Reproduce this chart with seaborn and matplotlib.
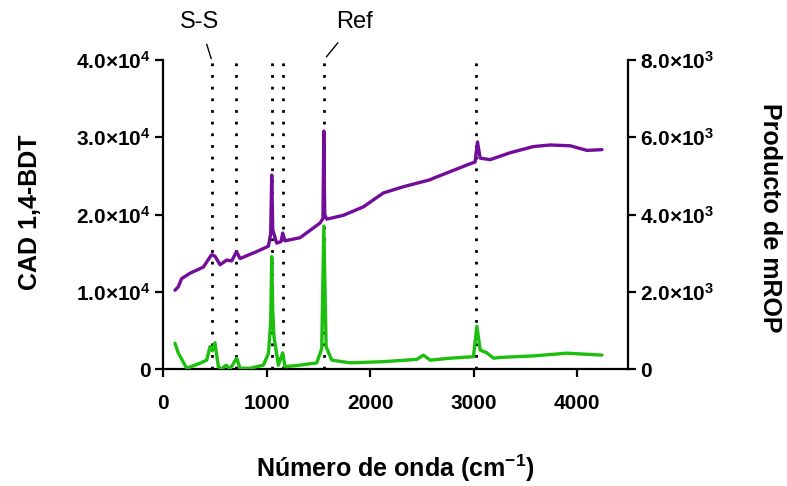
import numpy as np
import pandas as pd
import matplotlib
matplotlib.use("Agg")
import matplotlib.pyplot as plt
from matplotlib.ticker import FuncFormatter
import seaborn as sns

# CAD 1,4-BDT spectrum (left axis)
wn_cad = [116, 148, 180, 261, 390, 454, 470, 502, 551, 615, 664, 710, 744, 905, 1018, 1040,
          1050, 1060, 1098, 1140, 1156, 1178, 1324, 1517, 1545, 1553, 1562, 1581, 1742, 1936,
          2129, 2322, 2580, 2612, 2934, 3014, 3037, 3063, 3159, 3353, 3578, 3739, 3932, 4094, 4239]
cad = [10.2e3, 10.65e3, 11.7e3, 12.4e3, 13.2e3, 14.5e3, 14.8e3, 14.6e3, 13.5e3, 14.1e3, 14.0e3,
       15.2e3, 14.3e3, 15.2e3, 15.9e3, 17.5e3, 25.1e3, 18.0e3, 16.3e3, 16.5e3, 17.6e3, 16.6e3,
       17.0e3, 18.9e3, 19.5e3, 30.8e3, 20.0e3, 19.4e3, 19.9e3, 21.0e3, 22.8e3, 23.6e3, 24.5e3,
       24.7e3, 26.4e3, 26.8e3, 29.4e3, 27.3e3, 27.1e3, 28.0e3, 28.8e3, 29.0e3, 28.9e3, 28.3e3, 28.4e3]

# mROP product spectrum (right axis)
wn_rop = [116, 148, 229, 357, 422, 454, 477, 502, 535, 567, 609, 647, 712, 744, 841, 969, 1018,
          1040, 1050, 1060, 1072, 1114, 1156, 1178, 1324, 1485, 1533, 1553, 1575, 1630, 1807,
          2129, 2451, 2515, 2580, 2773, 2998, 3031, 3063, 3127, 3191, 3256, 3578, 3900, 4239]
rop = [665, 410, 20, 150, 230, 580, 470, 680, 60, 0, 100, 0, 280, 20, 20, 100, 400,
       1200, 2910, 1500, 840, 100, 420, 60, 100, 160, 530, 3700, 580, 230, 160,
       190, 250, 360, 230, 280, 320, 1110, 490, 420, 280, 300, 340, 410, 360]

marks = [470, 705, 1050, 1156, 1553, 3024]

sns.set_style("ticks")
plt.rcParams["font.family"] = ["Liberation Sans", "DejaVu Sans"]
plt.rcParams["font.weight"] = "bold"
plt.rcParams["mathtext.default"] = "regular"
for k in ["text.color", "axes.labelcolor", "xtick.color", "ytick.color", "axes.edgecolor"]:
    plt.rcParams[k] = "black"

fig = plt.figure(figsize=(7.87, 4.86), dpi=100)
ax = fig.add_axes([0.2071, 0.2407, 0.5908, 0.6358])
ax2 = ax.twinx()

for x in marks:
    ax.axvline(x, color="black", linestyle=(0, (1, 3.2)), lw=2, zorder=1)

sns.lineplot(x=wn_cad, y=cad, ax=ax, color="#730c9a", lw=2.4, sort=False, zorder=3)
sns.lineplot(x=wn_rop, y=rop, ax=ax2, color="#1cbf0e", lw=2.4, sort=False, zorder=3)

ax.set_xlim(0, 4490)
ax.set_ylim(0, 40000)
ax2.set_ylim(0, 8000)
ax.set_xticks([0, 1000, 2000, 3000, 4000])
ax.set_yticks([0, 10000, 20000, 30000, 40000])
ax2.set_yticks([0, 2000, 4000, 6000, 8000])


def sci(v, pos):
    if v == 0:
        return "0"
    e = int(np.floor(np.log10(abs(v))))
    return "%.1f×10$^{%d}$" % (v / 10 ** e, e)


ax.yaxis.set_major_formatter(FuncFormatter(sci))
ax2.yaxis.set_major_formatter(FuncFormatter(sci))

for a in (ax, ax2):
    a.spines["top"].set_visible(False)
    for s in a.spines.values():
        s.set_linewidth(1.6)
    a.tick_params(width=1.6, length=6, labelsize=15, direction="out", pad=3)
ax2.spines["left"].set_visible(False)
ax2.spines["bottom"].set_visible(False)
ax.spines["right"].set_visible(False)
for lab in ax.get_xticklabels() + ax.get_yticklabels() + ax2.get_yticklabels():
    lab.set_fontweight("bold")
ax.tick_params(axis="x", pad=12)

ax.set_xlabel("Número de onda (cm$^{-1}$)", fontsize=18, fontweight="bold", va="center")
ax.set_ylabel("CAD 1,4-BDT", fontsize=18, fontweight="bold", va="center", ha="center")
ax2.set_ylabel("Producto de mROP", fontsize=18, fontweight="bold", rotation=270,
               va="center", ha="center")
ax.xaxis.set_label_coords(0.499, -0.32)
ax.yaxis.set_label_coords(-0.286, 0.508)
ax2.yaxis.set_label_coords(1.305, 0.49)

ax.annotate("S-S", xy=(470, 40000), xytext=(-12, 38), textcoords="offset pixels",
            ha="center", va="center", fontsize=17, fontweight="normal",
            arrowprops=dict(arrowstyle="-", color="black", lw=1, shrinkA=6, shrinkB=1),
            annotation_clip=False)
ax.annotate("Ref", xy=(1553, 40000), xytext=(31, 38), textcoords="offset pixels",
            ha="center", va="center", fontsize=17, fontweight="normal",
            arrowprops=dict(arrowstyle="-", color="black", lw=1, shrinkA=6, shrinkB=3),
            annotation_clip=False)

fig.savefig("out.png", dpi=100)
